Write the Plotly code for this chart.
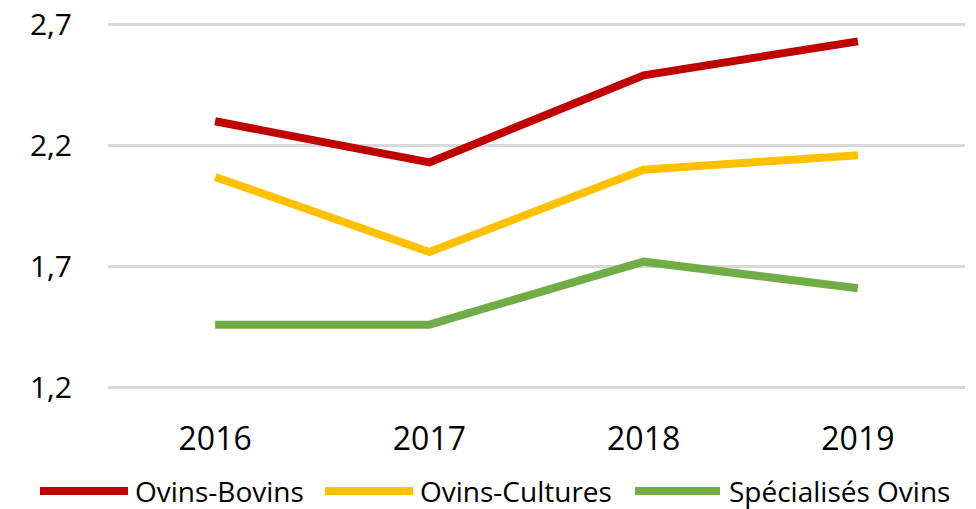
import plotly.graph_objects as go

years = ["2016", "2017", "2018", "2019"]
ovins_bovins = [2.30, 2.13, 2.49, 2.63]
ovins_cultures = [2.07, 1.76, 2.10, 2.16]
specialises_ovins = [1.46, 1.46, 1.72, 1.61]
y_ticks = [1.2, 1.7, 2.2, 2.7]
y_tick_labels = ["1,2", "1,7", "2,2", "2,7"]

series = [
    ("Ovins-Bovins", ovins_bovins, "#C00000"),
    ("Ovins-Cultures", ovins_cultures, "#FFC000"),
    ("Spécialisés Ovins", specialises_ovins, "#70AD47"),
]

W, H = 976, 509
ML, MR, MT, MB = 108, 11, 22, 119
PW, PH = W - ML - MR, H - MT - MB

def px_x(px):  # window px -> paper x
    return (px - ML) / PW

def px_y(py):  # window px -> paper y
    return (H - MB - py) / PH

fig = go.Figure()
for name, vals, color in series:
    fig.add_trace(go.Scatter(
        x=years, y=vals, name=name, mode="lines",
        line=dict(color=color, width=8),
        showlegend=False,
    ))

font_family = "Open Sans, Noto Sans, sans-serif"

# custom legend (long thick line symbols like the original)
legend_items = [  # (line start px, line end px, text left px)
    (40, 128, 133),
    (325, 413, 418),
    (635, 720, 727),
]
legend_y = px_y(491)
shapes, annotations = [], []
for (name, _, color), (x0, x1, tx) in zip(series, legend_items):
    shapes.append(dict(
        type="line", xref="paper", yref="paper",
        x0=px_x(x0), x1=px_x(x1), y0=legend_y, y1=legend_y,
        line=dict(color=color, width=8),
    ))
    annotations.append(dict(
        xref="paper", yref="paper", x=px_x(tx), y=legend_y,
        xanchor="left", yanchor="middle", showarrow=False,
        text=name, font=dict(size=28, family=font_family, color="black"),
    ))

fig.update_layout(
    width=W, height=H,
    margin=dict(l=ML, r=MR, t=MT, b=MB),
    paper_bgcolor="white", plot_bgcolor="white",
    font=dict(family=font_family, color="black"),
    showlegend=False,
    hovermode=False,
    shapes=shapes,
    annotations=annotations,
    xaxis=dict(
        range=[-0.5, 3.5], automargin=False,
        showgrid=False, showline=False, zeroline=False,
        tickfont=dict(size=32), ticks="", ticklabelstandoff=27,
    ),
    yaxis=dict(
        range=[1.19, 2.71], automargin=False,
        tickvals=y_ticks, ticktext=y_tick_labels,
        showgrid=True, gridcolor="#d9d9d9", gridwidth=2.5,
        zeroline=False, showline=False,
        tickfont=dict(size=30), ticks="", ticklabelstandoff=35,
        ticklabeloverflow="allow",
    ),
)

# remove the default 8px page margin so the figure fills the window exactly
fig.write_html(
    "out.html",
    config={"displayModeBar": False},
    post_script="document.body.style.margin='0';",
)
